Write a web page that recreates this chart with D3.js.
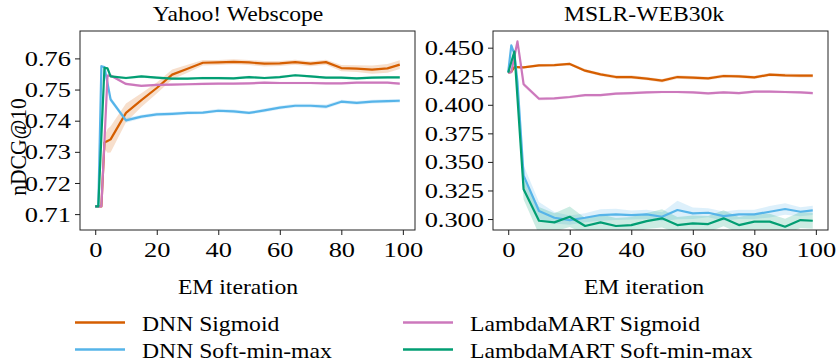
<!DOCTYPE html>
<html>
<head>
<meta charset="utf-8">
<script src="https://cdn.jsdelivr.net/npm/d3@7"></script>
<style>
  body { margin: 0; background: #fff; }
  text { font-family: "Liberation Serif", "Times New Roman", serif; fill: #000; }
</style>
</head>
<body>
<div class="canvas"></div>
<script>
// EM iterations at which the models were evaluated
const iters = [0,1,2,3,4,5,10,15,20,25,30,35,40,45,50,55,60,65,70,75,80,85,90,95,99]

// Yahoo! Webscope, nDCG@10 mean and std
const yahooDnnSigmoid = [0.7125,0.7125,0.7125,0.7330,0.7335,0.7340,0.7425,0.7466,0.7505,0.7548,0.7567,0.7586,0.7587,0.7589,0.7587,0.7583,0.7584,0.7588,0.7583,0.7588,0.7569,0.7567,0.7564,0.7568,0.7580]
const yahooDnnSoft    = [0.7125,0.7125,0.7575,0.7572,0.7520,0.7468,0.7401,0.7413,0.7420,0.7422,0.7425,0.7426,0.7432,0.7430,0.7425,0.7433,0.7442,0.7448,0.7448,0.7445,0.7461,0.7457,0.7461,0.7463,0.7464]
const yahooLmSigmoid  = [0.7125,0.7125,0.7125,0.7335,0.7545,0.7545,0.7518,0.7512,0.7515,0.7516,0.7517,0.7518,0.7519,0.7519,0.7520,0.7522,0.7521,0.7521,0.7521,0.7520,0.7520,0.7522,0.7522,0.7522,0.7519]
const yahooLmSoft     = [0.7125,0.7125,0.7350,0.7570,0.7568,0.7542,0.7537,0.7542,0.7538,0.7535,0.7535,0.7537,0.7537,0.7536,0.7540,0.7537,0.7540,0.7546,0.7542,0.7538,0.7538,0.7536,0.7538,0.7539,0.7539]
const yahooDnnSigmoidSd = [0,0,0,0.002,0.0038,0.0042,0.003,0.0022,0.0018,0.0016,0.0013,0.0009,0.0008,0.0008,0.0008,0.0009,0.0008,0.0008,0.0008,0.0008,0.001,0.0011,0.0013,0.0014,0.0014]
const yahooDnnSoftSd    = [0,0,0.0003,0.0003,0.0005,0.0008,0.0008,0.0006,0.0006,0.0006,0.0005,0.0005,0.0006,0.0006,0.0005,0.0006,0.0006,0.0006,0.0006,0.0007,0.0006,0.0006,0.0006,0.0006,0.0006]
const yahooLmSigmoidSd  = [0,0,0,0.0003,0.0004,0.0004,0.0004,0.0004,0.0004,0.0004,0.0004,0.0004,0.0004,0.0004,0.0004,0.0004,0.0004,0.0004,0.0004,0.0004,0.0004,0.0004,0.0004,0.0004,0.0004]
const yahooLmSoftSd     = [0,0,0.0003,0.0004,0.0004,0.0004,0.0004,0.0004,0.0004,0.0004,0.0004,0.0004,0.0004,0.0004,0.0004,0.0004,0.0004,0.0004,0.0004,0.0004,0.0004,0.0004,0.0004,0.0004,0.0004]

// MSLR-WEB30k, nDCG@10 mean and std
const mslrDnnSigmoid = [0.4280,0.4290,0.4330,0.4330,0.4328,0.4328,0.4345,0.4348,0.4358,0.4299,0.4266,0.4243,0.4243,0.4229,0.4211,0.4243,0.4237,0.4231,0.4252,0.4249,0.4240,0.4264,0.4258,0.4255,0.4255]
const mslrDnnSoft    = [0.4285,0.4520,0.4445,0.4200,0.3790,0.3380,0.3070,0.3011,0.2991,0.3011,0.3035,0.3041,0.3035,0.3041,0.3020,0.3079,0.3050,0.3055,0.3026,0.3041,0.3041,0.3064,0.3088,0.3064,0.3076]
const mslrLmSigmoid  = [0.4280,0.4285,0.4420,0.4555,0.4370,0.4180,0.4053,0.4056,0.4068,0.4085,0.4085,0.4097,0.4103,0.4109,0.4112,0.4112,0.4109,0.4100,0.4109,0.4103,0.4115,0.4115,0.4112,0.4109,0.4103]
const mslrLmSoft     = [0.4280,0.4375,0.4465,0.4063,0.3660,0.3260,0.2985,0.2971,0.3020,0.2939,0.2971,0.2939,0.2947,0.2982,0.3006,0.2947,0.2962,0.2956,0.3006,0.2947,0.2977,0.2977,0.2933,0.2991,0.2985]
const mslrDnnSigmoidSd = [0,0.0005,0.001,0.001,0.001,0.001,0.0012,0.0012,0.0012,0.0015,0.0015,0.0015,0.0015,0.0015,0.0015,0.0015,0.0015,0.0015,0.0015,0.0015,0.0015,0.0015,0.0015,0.0015,0.0015]
const mslrDnnSoftSd    = [0,0.001,0.002,0.004,0.007,0.009,0.008,0.005,0.004,0.004,0.005,0.005,0.004,0.004,0.004,0.008,0.005,0.004,0.004,0.004,0.004,0.005,0.005,0.004,0.004]
const mslrLmSigmoidSd  = [0,0,0.001,0.001,0.0015,0.002,0.0015,0.0012,0.0012,0.0012,0.0012,0.0012,0.0012,0.0012,0.0012,0.0012,0.0012,0.0012,0.0012,0.0012,0.0012,0.0012,0.0012,0.0012,0.0012]
const mslrLmSoftSd     = [0,0.001,0.002,0.004,0.007,0.009,0.012,0.008,0.009,0.007,0.007,0.007,0.007,0.007,0.008,0.007,0.007,0.007,0.007,0.007,0.007,0.007,0.007,0.007,0.007]

const seriesNames = ['DNN Sigmoid', 'DNN Soft-min-max', 'LambdaMART Sigmoid', 'LambdaMART Soft-min-max']
const colors = ['#D55E00', '#56B4E9', '#CC78BC', '#029E73']

const xTicks = [0, 20, 40, 60, 80, 100]
const yahooTicks = [0.71, 0.72, 0.73, 0.74, 0.75, 0.76]
const mslrTicks = [0.300, 0.325, 0.350, 0.375, 0.400, 0.425, 0.450]

const panels = [
  { title: 'Yahoo! Webscope', left: 80, right: 415, yDomain: [0.7049, 0.7688], ticks: yahooTicks, fmt: '.2f',
    means: [yahooDnnSigmoid, yahooDnnSoft, yahooLmSigmoid, yahooLmSoft],
    sds: [yahooDnnSigmoidSd, yahooDnnSoftSd, yahooLmSigmoidSd, yahooLmSoftSd], titleX: 238 },
  { title: 'MSLR-WEB30k', left: 493, right: 828, yDomain: [0.2904, 0.4646], ticks: mslrTicks, fmt: '.3f',
    means: [mslrDnnSigmoid, mslrDnnSoft, mslrLmSigmoid, mslrLmSoft],
    sds: [mslrDnnSigmoidSd, mslrDnnSoftSd, mslrLmSigmoidSd, mslrLmSoftSd], titleX: 644 }
]

const plotTop = 31, plotBottom = 230
const tickStretch = 1.2, textStretch = 1.1

const svg = d3.select('.canvas').append('svg')
    .attr('width', 837)
    .attr('height', 364)

// horizontal stretch on text, the reference looks widened
function stretch(sel, k) {
  sel.attr('transform', `scale(${k},1)`)
     .attr('x', function() { return (+this.getAttribute('x') || 0) / k })
}

function label(x, y, str, size, anchor) {
  return svg.append('text')
      .attr('transform', `translate(${x},${y}) scale(${textStretch},1)`)
      .attr('text-anchor', anchor)
      .style('font-size', size + 'px')
      .text(str)
}

panels.forEach((p, pi) => {
  const x = d3.scaleLinear().domain([-4.95, 103.95]).range([p.left, p.right])
  const y = d3.scaleLinear().domain(p.yDomain).range([plotBottom, plotTop])

  const clipId = 'clip' + pi
  svg.append('clipPath').attr('id', clipId)
    .append('rect')
      .attr('x', p.left).attr('y', plotTop)
      .attr('width', p.right - p.left).attr('height', plotBottom - plotTop)

  const plot = svg.append('g').attr('clip-path', `url(#${clipId})`)

  p.means.forEach((m, si) => {
    const pts = iters.map((it, i) => ({ it, m: m[i], s: p.sds[si][i] }))
    const area = d3.area()
        .x(d => x(d.it))
        .y0(d => y(d.m - d.s))
        .y1(d => y(d.m + d.s))
    plot.append('path')
        .datum(pts)
        .attr('d', area)
        .attr('fill', colors[si])
        .attr('fill-opacity', 0.2)
  })

  p.means.forEach((m, si) => {
    const line = d3.line()
        .x((d, i) => x(iters[i]))
        .y(d => y(d))
    plot.append('path')
        .datum(m)
        .attr('d', line)
        .attr('fill', 'none')
        .attr('stroke', colors[si])
        .attr('stroke-width', 2.2)
        .attr('stroke-linejoin', 'round')
  })

  // axes
  const gx = svg.append('g')
      .attr('transform', `translate(0,${plotBottom})`)
      .call(d3.axisBottom(x).tickValues(xTicks).tickSize(5).tickPadding(6).tickFormat(d3.format('d')))
  const gy = svg.append('g')
      .attr('transform', `translate(${p.left},0)`)
      .call(d3.axisLeft(y).tickValues(p.ticks).tickSize(5).tickPadding(4).tickFormat(d3.format(p.fmt)))

  ;[gx, gy].forEach(g => {
    g.select('.domain').remove()
    g.selectAll('line').attr('stroke', '#000').attr('stroke-width', 0.9)
    g.selectAll('text')
        .style('font-size', '22px')
        .style('font-family', '"Liberation Serif", "Times New Roman", serif')
        .call(stretch, tickStretch)
  })

  // frame
  svg.append('rect')
      .attr('x', p.left).attr('y', plotTop)
      .attr('width', p.right - p.left).attr('height', plotBottom - plotTop)
      .attr('fill', 'none')
      .attr('stroke', '#222')
      .attr('stroke-width', 1)

  label(p.titleX, 20.5, p.title, 21.5, 'middle')
  label(p.titleX, 294, 'EM iteration', 21.5, 'middle')
})

// y axis label
svg.append('text')
    .attr('transform', `translate(26,147) rotate(-90) scale(1,${textStretch})`)
    .attr('text-anchor', 'middle')
    .style('font-size', '21.5px')
    .text('nDCG@10')

// legend, two columns
const legendCols = [75, 403]
const legendRows = [322.5, 349.5]
seriesNames.forEach((name, i) => {
  const cx = legendCols[Math.floor(i / 2)]
  const cy = legendRows[i % 2]
  svg.append('line')
      .attr('x1', cx).attr('x2', cx + 50)
      .attr('y1', cy).attr('y2', cy)
      .attr('stroke', colors[i])
      .attr('stroke-width', 2.5)
  label(cx + 67, cy + 8, name, 21.5, 'start')
})
</script>
</body>
</html>
